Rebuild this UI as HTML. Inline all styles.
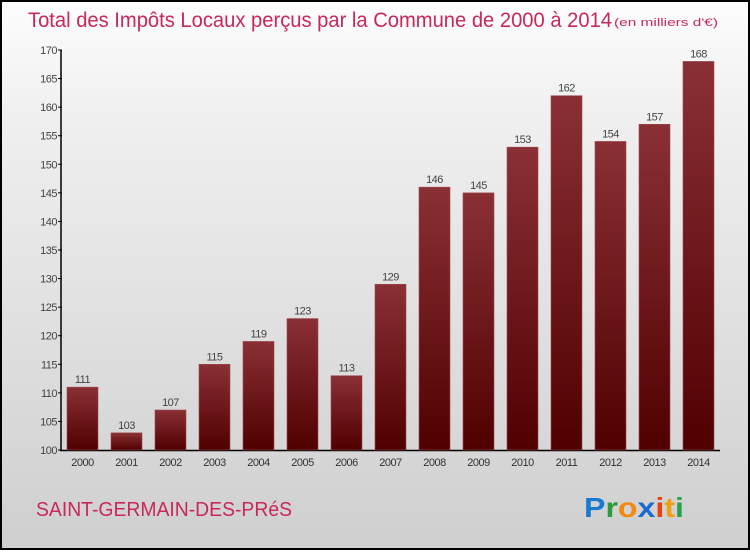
<!DOCTYPE html>
<html><head><meta charset="utf-8"><style>
html,body{margin:0;padding:0}
body{width:750px;height:550px;overflow:hidden;font-family:"Liberation Sans",sans-serif}
#wrap{position:absolute;left:0;top:0;width:746px;height:546px;border:2px solid #000;background:linear-gradient(#fdfdfd,#f0f0f0 20%,#cfcfcf)}
</style></head><body>
<div id="wrap">
<svg width="746" height="546" viewBox="2 2 746 546" id="svg">
<defs><linearGradient id="bg" x1="0" y1="0" x2="0" y2="1"><stop offset="0" stop-color="#8a3035"/><stop offset="1" stop-color="#500000"/></linearGradient></defs>
<text x="28" y="27" font-size="21" fill="#c8285a" textLength="584" lengthAdjust="spacingAndGlyphs">Total des Impôts Locaux perçus par la Commune de 2000 à 2014</text>
<text x="614" y="26" font-size="11" fill="#c8285a" textLength="104" lengthAdjust="spacingAndGlyphs">(en milliers d'€)</text>
<g id="axes"></g><g id="bars"></g>
<text x="36" y="516" font-size="20" fill="#c8285a" textLength="256" lengthAdjust="spacingAndGlyphs">SAINT-GERMAIN-DES-PRéS</text>
<text x="584" y="517" font-size="28" font-weight="bold" textLength="100" lengthAdjust="spacingAndGlyphs"><tspan fill="#1a7ad0">P</tspan><tspan fill="#2a9a3a">r</tspan><tspan fill="#f08a10">o</tspan><tspan fill="#1a6ad0">x</tspan><tspan fill="#e84010">i</tspan><tspan fill="#f0a010">t</tspan><tspan fill="#2aa04a">i</tspan></text>
</svg></div>
<script>
const years=["2000","2001","2002","2003","2004","2005","2006","2007","2008","2009","2010","2011","2012","2013","2014"];
const values=[111,103,107,115,119,123,113,129,146,145,153,162,154,157,168];
const yTicks=[100,105,110,115,120,125,130,135,140,145,150,155,160,165,170];
const NS="http://www.w3.org/2000/svg";
const y=v=>450-(v-100)*400/70, x=i=>82.5+i*44;
function mk(t,a,p){const e=document.createElementNS(NS,t);for(const k in a)e.setAttribute(k,a[k]);p.appendChild(e);return e;}
const ax=document.getElementById('axes'),bs=document.getElementById('bars');
let l=mk('line',{x1:61,y1:50,x2:61,y2:451,stroke:'#000','stroke-width':1.5},ax);


l=mk('line',{x1:60,y1:450.5,x2:720,y2:450.5,stroke:'#000','stroke-width':1.5},ax);


yTicks.forEach(v=>{
 mk('line',{x1:58,x2:62,y1:y(v),y2:y(v),stroke:'#000'},ax);
 const t=mk('text',{x:57,y:y(v)+4,'font-size':11,'text-anchor':'end',fill:'#444','letter-spacing':'-0.5'},ax);t.textContent=v;
 
 
});
years.forEach((yr,i)=>{
 const r=mk('rect',{x:x(i)-15.5,y:y(values[i]),width:31,height:450-y(values[i]),fill:'url(#bg)',stroke:'#9a4a50','stroke-width':0.6},bs);
 
 
 const t=mk('text',{x:x(i),y:y(values[i])-4,'font-size':11,'text-anchor':'middle',fill:'#444','letter-spacing':'-0.5'},bs);t.textContent=values[i];
 
 
 const xl=mk('text',{x:x(i),y:466,'font-size':11,'text-anchor':'middle',fill:'#333','letter-spacing':'-0.5'},bs);xl.textContent=yr;
 
 
});
</script>
</body></html>
